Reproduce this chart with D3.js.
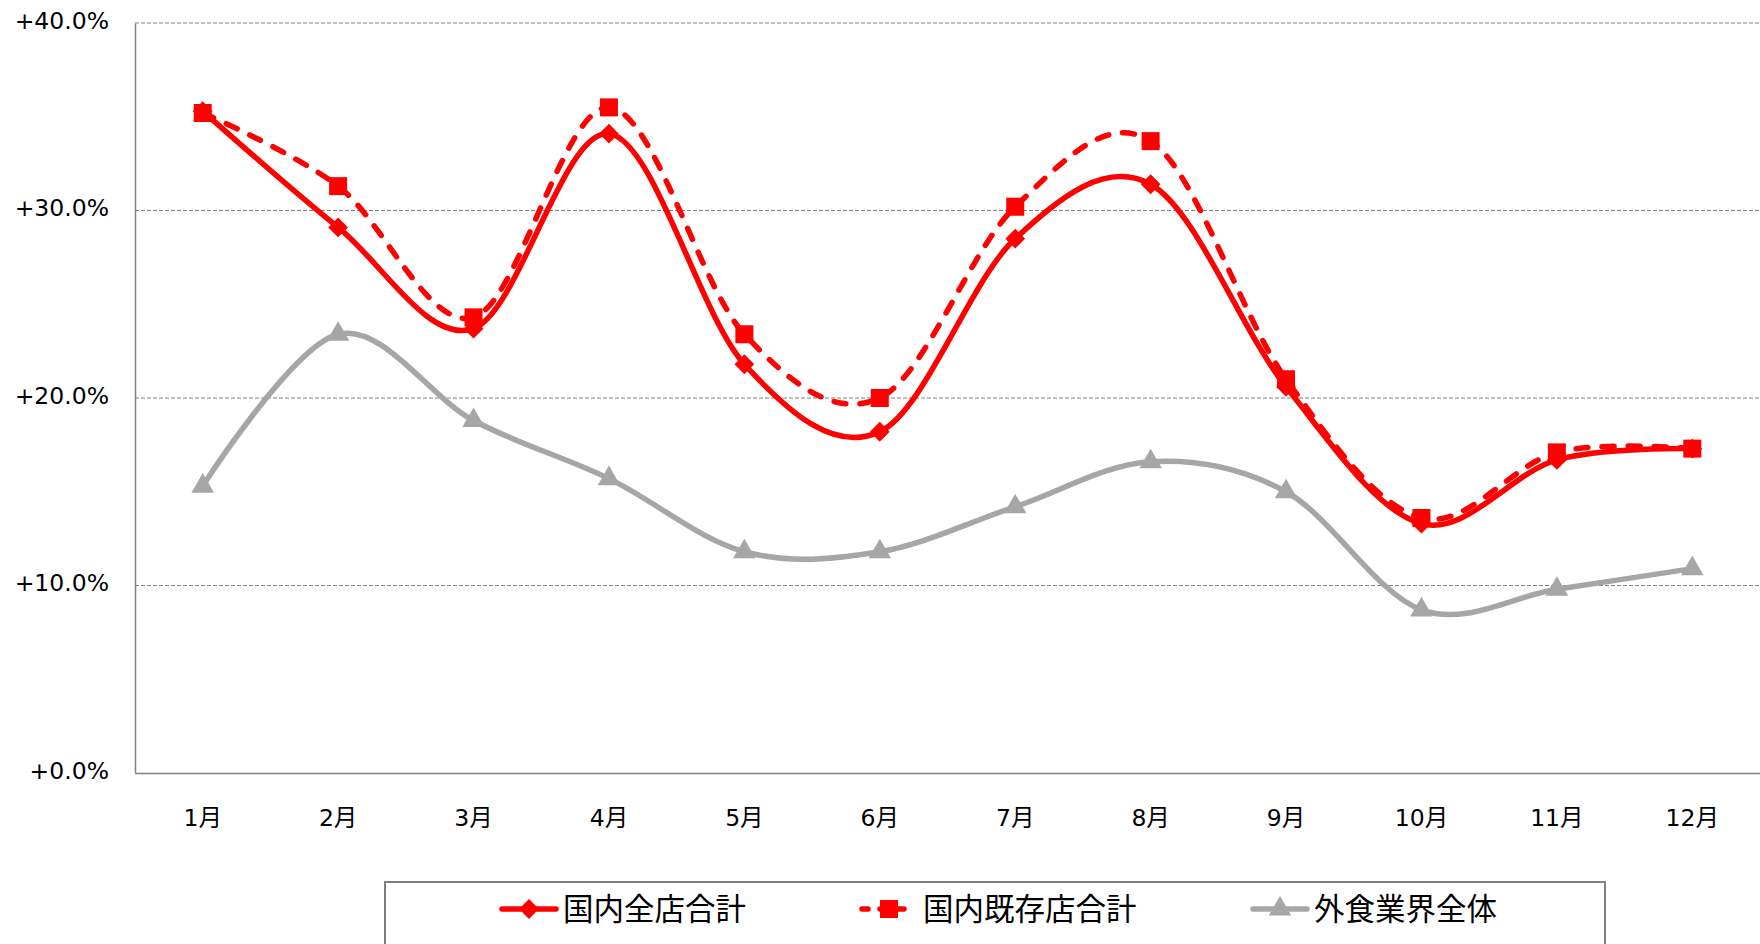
<!DOCTYPE html>
<html>
<head>
<meta charset="utf-8">
<script src="https://cdn.jsdelivr.net/npm/d3@7"></script>
<style>
  html, body { margin: 0; padding: 0; background: #fff; }
  svg { display: block; }
</style>
</head>
<body>
<div id="chart"></div>
<script>
// Data
const months = ['1月', '2月', '3月', '4月', '5月', '6月', '7月', '8月', '9月', '10月', '11月', '12月'];
const allStores = [35.3, 29.1, 23.7, 34.1, 21.8, 18.2, 28.5, 31.4, 20.6, 13.3, 16.7, 17.3];
const existingStores = [35.2, 31.3, 24.3, 35.5, 23.4, 20.0, 30.2, 33.7, 21.0, 13.6, 17.1, 17.3];
const industry = [15.3, 23.4, 18.8, 15.7, 11.8, 11.8, 14.2, 16.6, 15.0, 8.7, 9.8, 10.9];
const yTicks = [0, 10, 20, 30, 40];
const seriesNames = ['国内全店合計', '国内既存店合計', '外食業界全体'];

const W = 1760, H = 944;
const margin = { top: 23, right: 0, bottom: 171, left: 135 };
const width = W - margin.left - margin.right;
const height = H - margin.top - margin.bottom;

const svg = d3.select('#chart')
  .append('svg')
  .attr('width', W)
  .attr('height', H);

const chartArea = svg.append('g')
  .attr('transform', `translate(${margin.left},${margin.top})`);

// Scales
const x = d3.scaleBand().domain(months).range([0, width]);
const y = d3.scaleLinear().domain([0, 40]).range([height, 0]);
const cx = d => x(d) + x.bandwidth() / 2;

// Gridlines
chartArea.append('g')
  .selectAll('line')
  .data(yTicks.filter(t => t > 0))
  .join('line')
  .attr('x1', 0).attr('x2', width)
  .attr('y1', d => y(d)).attr('y2', d => y(d))
  .attr('stroke', '#808080')
  .attr('stroke-width', 1.2)
  .attr('stroke-dasharray', '4,2');

// Axes
const yAxis = d3.axisLeft(y).tickValues(yTicks).tickSize(0).tickPadding(26)
  .tickFormat(d => '+' + d3.format('.1f')(d) + '%');
const gy = chartArea.append('g').call(yAxis);
gy.select('.domain').attr('stroke', '#808080').attr('stroke-width', 1.5);
gy.selectAll('text')
  .attr('font-family', 'DejaVu Sans, Verdana, sans-serif')
  .attr('font-size', 23.5)
  .attr('dy', '0.22em')
  .attr('fill', '#000');

const xAxis = d3.axisBottom(x).tickSize(0).tickPadding(36);
const gx = chartArea.append('g')
  .attr('transform', `translate(0,${height})`)
  .call(xAxis);
gx.select('.domain').attr('stroke', '#808080').attr('stroke-width', 1.5);
gx.selectAll('text')
  .attr('font-family', 'DejaVu Sans, "Noto Sans CJK JP", sans-serif')
  .attr('font-size', 23.5)
  .attr('fill', '#000');

// Series
const line = d3.line()
  .x((d, i) => cx(months[i]))
  .y(d => y(d))
  .curve(d3.curveCardinal.tension(0));

const diamond = d3.symbol().type(d3.symbolSquare).size(14 * 14);
const square = d3.symbol().type(d3.symbolSquare).size(18 * 18);
const triangle = d3.symbol().type(d3.symbolTriangle).size(220);

const series = [
  { name: seriesNames[2], values: industry, color: '#A6A6A6', dash: null, sym: triangle, rot: 0 },
  { name: seriesNames[0], values: allStores, color: '#FF0000', dash: null, sym: diamond, rot: 45 },
  { name: seriesNames[1], values: existingStores, color: '#FF0000', dash: '12,14', sym: square, rot: 0 }
];

series.forEach(s => {
  chartArea.append('path')
    .datum(s.values)
    .attr('d', line)
    .attr('fill', 'none')
    .attr('stroke', s.color)
    .attr('stroke-width', 5.5)
    .attr('stroke-linecap', 'round')
    .attr('stroke-linejoin', 'round')
    .attr('stroke-dasharray', s.dash);

  chartArea.append('g')
    .selectAll('path')
    .data(s.values)
    .join('path')
    .attr('d', s.sym())
    .attr('transform', (d, i) => `translate(${cx(months[i])},${y(d)}) rotate(${s.rot})`)
    .attr('fill', s.color);
});

// Legend
const legend = svg.append('g');
legend.append('rect')
  .attr('x', 385).attr('y', 882)
  .attr('width', 1220).attr('height', 80)
  .attr('fill', '#fff')
  .attr('stroke', '#808080')
  .attr('stroke-width', 2);

const legendItems = [
  { s: series[1], x0: 500 },
  { s: series[2], x0: 860 },
  { s: series[0], x0: 1251 }
];
const ly = 909;
legendItems.forEach(item => {
  const g = legend.append('g').attr('transform', `translate(${item.x0},${ly})`);
  g.append('line')
    .attr('x1', 2).attr('x2', 56)
    .attr('stroke', item.s.color)
    .attr('stroke-width', 5.5)
    .attr('stroke-linecap', 'round')
    .attr('stroke-dasharray', item.s.dash ? '6,12' : null);
  g.append('path')
    .attr('d', item.s.sym())
    .attr('transform', `translate(29,0) rotate(${item.s.rot})`)
    .attr('fill', item.s.color);
  g.append('text')
    .attr('x', 63)
    .attr('dy', '0.36em')
    .attr('font-family', '"Noto Sans CJK JP", sans-serif')
    .attr('font-size', 30.5)
    .attr('fill', '#000')
    .text(item.s.name);
});
</script>
</body>
</html>
